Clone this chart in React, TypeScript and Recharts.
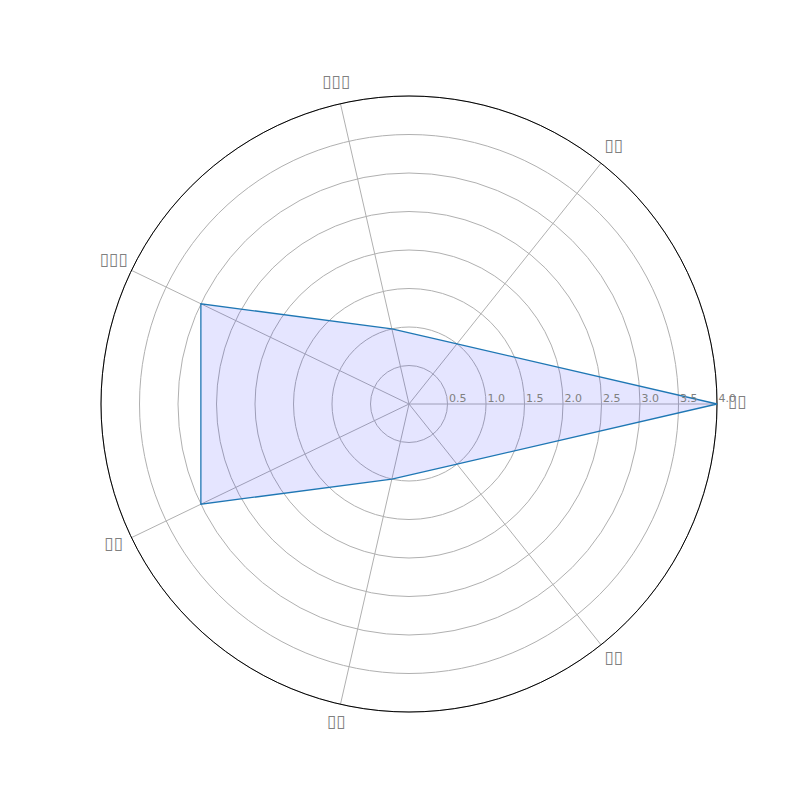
import { PolarAngleAxis, PolarGrid, PolarRadiusAxis, Radar, RadarChart } from "recharts";

// labels in the picture are missing-glyph boxes, kept as box characters
// listed counterclockwise from the east spoke, as the picture reads
const categories = ["▯▯", "▯▯", "▯▯▯", "▯▯▯", "▯▯", "▯▯", "▯▯"];
const values = [4, 1, 1, 3, 3, 1, 1];
const radiusTicks = [0.5, 1.0, 1.5, 2.0, 2.5, 3.0, 3.5, 4.0];

// recharts only lays out a full circle cleanly clockwise (0 -> -360),
// so feed the rows in clockwise order: first, then the rest reversed
const order = [0, ...categories.map((_, i) => i).slice(1).reverse()];
const data = order.map((i) => ({ key: `c${i}`, name: categories[i], value: values[i] }));

const CX = 409;
const CY = 404;
const R = 308;

function AngleTick(props: any) {
  const angle = (props.payload.coordinate * Math.PI) / 180;
  const x = CX + (R + 20) * Math.cos(angle);
  const y = CY - (R + 20) * Math.sin(angle) - 3;
  const row = data.find((d) => d.key === props.payload.value);
  return (
    <text
      x={x}
      y={y}
      textAnchor="middle"
      dominantBaseline="central"
      fill="#808080"
      fontSize={17}
      fontFamily="DejaVu Sans"
    >
      {row ? row.name : ""}
    </text>
  );
}

function RadiusTick(props: any) {
  return (
    <text
      x={props.x + 1.5}
      y={props.y - 2}
      fill="#808080"
      fontSize={11}
      fontFamily="DejaVu Sans"
    >
      {props.payload.value.toFixed(1)}
    </text>
  );
}

export default function App() {
  return (
    <div style={{ position: "absolute", left: 0, top: 0, width: 800, height: 800, background: "#fff" }}>
      <RadarChart
        width={800}
        height={800}
        data={data}
        cx={CX}
        cy={CY}
        outerRadius={R}
        startAngle={0}
        endAngle={-360}
      >
        <PolarGrid gridType="circle" stroke="#b0b0b0" strokeWidth={1} />
        <PolarGrid gridType="circle" polarRadius={[R]} radialLines={false} stroke="#000" strokeWidth={1} />
        <PolarAngleAxis dataKey="key" axisLine={false} tickLine={false} tick={AngleTick} />
        <PolarRadiusAxis
          angle={0}
          domain={[0, 4]}
          ticks={radiusTicks}
          axisLine={false}
          tickLine={false}
          tick={RadiusTick}
        />
        <Radar
          dataKey="value"
          stroke="#1f77b4"
          strokeWidth={1.3}
          fill="blue"
          fillOpacity={0.1}
          isAnimationActive={false}
        />
      </RadarChart>
    </div>
  );
}
